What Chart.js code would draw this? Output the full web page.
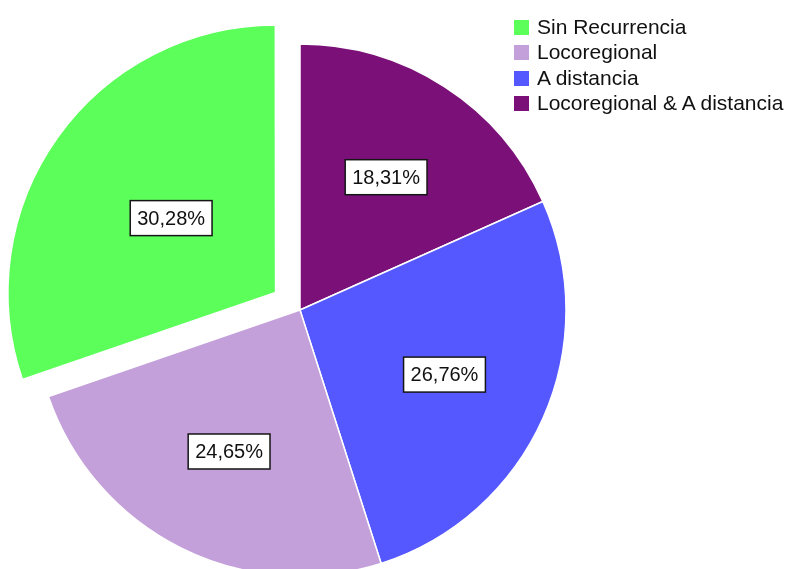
<!DOCTYPE html>
<html>
<head>
<meta charset="utf-8">
<script src="https://cdn.jsdelivr.net/npm/chart.js@4"></script>
<style>
    html, body { margin: 0; padding: 0; background: #fff; }
    #wrap { position: relative; width: 789px; height: 569px; overflow: hidden; }
    #leyenda { position: absolute; left: 514px; top: 14px; font-family: "Liberation Sans", Arial, sans-serif; font-size: 21px; color: #111; }
    #leyenda div { height: 25.3px; line-height: 25.3px; white-space: nowrap; }
    #leyenda span.cuadro { display: inline-block; width: 15px; height: 15px; margin-right: 8px; vertical-align: -1px; }
</style>
</head>
<body>
<div id="wrap">
    <canvas id="grafico" width="789" height="569"></canvas>
    <div id="leyenda"></div>
</div>
<script>
// datos en el orden de la leyenda
const categorias = ["Sin Recurrencia", "Locoregional", "A distancia", "Locoregional & A distancia"];
const casos = [43, 35, 38, 26];
const colores = ["#5CFF5A", "#C4A0DA", "#5558FF", "#7B1178"];
// Chart.js v4 desplaza el arco offset/4 px
const separacion = [120, 0, 0, 0];

document.addEventListener("DOMContentLoaded", function () {
    const total = casos.reduce((a, b) => a + b, 0);

    // leyenda
    const leyenda = document.getElementById("leyenda");
    leyenda.innerHTML = categorias.map((c, i) =>
        `<div><span class="cuadro" style="background:${colores[i]}"></span>${c}</div>`
    ).join("");

    // SPSS dibuja en sentido antihorario, Chart.js en horario: invertimos
    const rev = arr => arr.slice().reverse();

    const etiquetas = {
        id: "etiquetas",
        afterDatasetsDraw(chart) {
            const ctx = chart.ctx;
            const meta = chart.getDatasetMeta(0);
            const valores = chart.data.datasets[0].data;
            ctx.save();
            ctx.font = '20px "Liberation Sans", Arial, sans-serif';
            ctx.textAlign = "center";
            ctx.textBaseline = "middle";
            meta.data.forEach((arc, i) => {
                const p = arc.getProps(["x", "y", "startAngle", "endAngle", "outerRadius"], true);
                const mid = (p.startAngle + p.endAngle) / 2;
                const d = p.outerRadius * 0.595;
                const lx = p.x + Math.cos(mid) * d;
                const ly = p.y + Math.sin(mid) * d;
                const texto = (valores[i] / total * 100).toFixed(2).replace(".", ",") + "%";
                const w = ctx.measureText(texto).width + 14;
                const h = 35;
                ctx.fillStyle = "#fff";
                ctx.fillRect(lx - w / 2, ly - h / 2, w, h);
                ctx.strokeStyle = "#151515";
                ctx.lineWidth = 1.5;
                ctx.strokeRect(lx - w / 2, ly - h / 2, w, h);
                ctx.fillStyle = "#111";
                ctx.fillText(texto, lx, ly + 1);
            });
            ctx.restore();
        }
    };

    new Chart(document.getElementById("grafico").getContext("2d"), {
        type: "pie",
        data: {
            labels: rev(categorias),
            datasets: [{
                data: rev(casos),
                backgroundColor: rev(colores),
                borderColor: "#fff",
                borderWidth: 1.5,
                offset: rev(separacion)
            }]
        },
        options: {
            responsive: false,
            animation: false,
            radius: 266,
            layout: { padding: { left: 0, right: 189, top: 51, bottom: 0 } },
            plugins: {
                legend: { display: false },
                tooltip: { enabled: false }
            }
        },
        plugins: [etiquetas]
    });
});
</script>
</body>
</html>
